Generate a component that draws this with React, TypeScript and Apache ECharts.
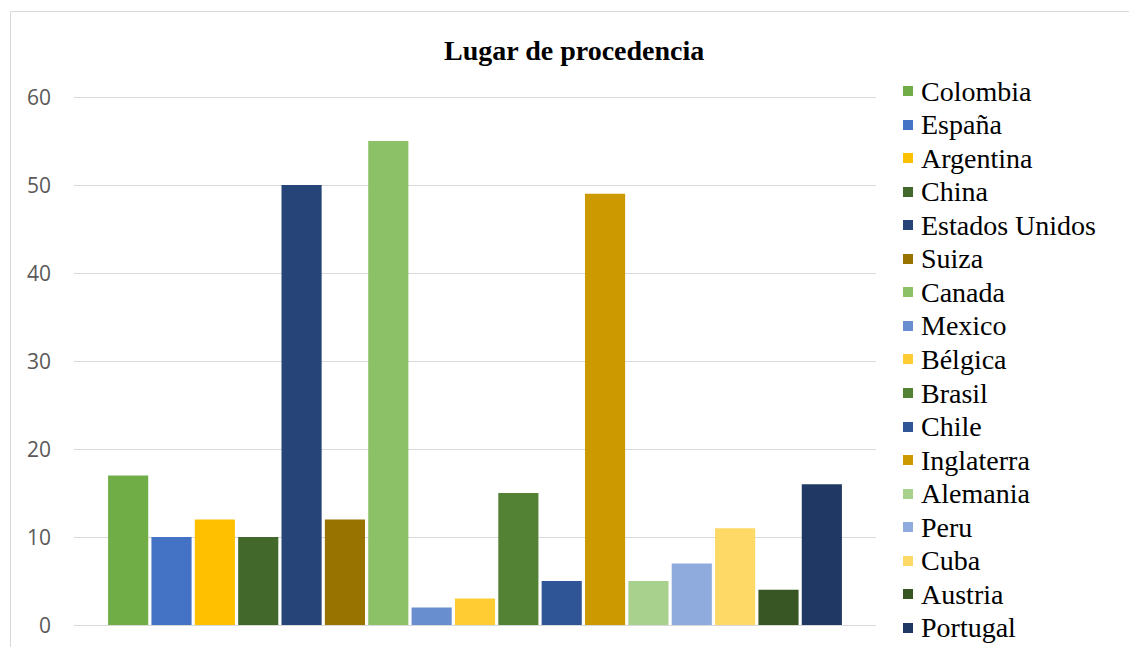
import React, { useEffect, useRef } from "react";
import * as echarts from "echarts";

const categories = [""];
const countries = [
  "Colombia", "España", "Argentina", "China", "Estados Unidos", "Suiza", "Canada",
  "Mexico", "Bélgica", "Brasil", "Chile", "Inglaterra", "Alemania", "Peru", "Cuba",
  "Austria", "Portugal",
];
const values = [17, 10, 12, 10, 50, 12, 55, 2, 3, 15, 5, 49, 5, 7, 11, 4, 16];
const colors = [
  "#70AD47", "#4472C4", "#FFC000", "#43682B", "#264478", "#997300", "#8CC168",
  "#698ED0", "#FFCD33", "#548235", "#2F5597", "#CC9A00", "#A9D18E", "#8FAADC",
  "#FFD966", "#375623", "#203864",
];
const yTicks = { min: 0, max: 60, interval: 10 };

const SERIF = "Liberation Serif";
const LEG_FONT = "normal 400 28px 'Times New Roman', 'Liberation Serif', 'DejaVu Serif', serif";
const LEG_X = 903;
const LEG_Y0 = 91;
const LEG_STEP = 33.56;

export default function App() {
  const ref = useRef<HTMLDivElement>(null);
  useEffect(() => {
    document.body.style.margin = "0";
    const chart = echarts.init(ref.current!, undefined, { renderer: "svg" });
    const legendEls: any[] = [];
    countries.forEach((name, i) => {
      const cy = LEG_Y0 + i * LEG_STEP;
      legendEls.push({
        type: "rect",
        shape: { x: LEG_X, y: Math.round(cy - 5), width: 10, height: 10 },
        style: { fill: colors[i] },
        silent: true,
      });
      legendEls.push({
        type: "text",
        x: LEG_X + 18,
        y: cy,
        style: {
          text: name,
          font: LEG_FONT,
          fill: "#000000",
          verticalAlign: "middle",
          align: "left",
        },
        silent: true,
      });
    });
    chart.setOption({
      animation: false,
      backgroundColor: "#ffffff",
      title: {
        text: "Lugar de procedencia",
        left: 444,
        top: 36,
        padding: 0,
        textStyle: {
          fontFamily: SERIF,
          fontWeight: "bold",
          fontSize: 28,
          color: "#000000",
        },
      },
      legend: { show: false, data: countries },
      graphic: [
        {
          type: "rect",
          shape: { x: 10.5, y: 11.5, width: 1300, height: 1000 },
          style: { fill: "none", stroke: "#d9d9d9", lineWidth: 1 },
          silent: true,
        },
        ...legendEls,
      ],
      grid: { left: 74, right: 1129 - 876, top: 97, bottom: 22, containLabel: false },
      xAxis: {
        type: "category",
        data: categories,
        axisLine: { show: false },
        axisTick: { show: false },
        axisLabel: { show: false },
      },
      yAxis: {
        type: "value",
        min: yTicks.min,
        max: yTicks.max,
        interval: yTicks.interval,
        axisLine: { show: false },
        axisTick: { show: false },
        axisLabel: {
          margin: 23,
          fontFamily: "Open Sans",
          fontSize: 21,
          color: "#595959",
        },
        splitLine: { lineStyle: { color: "#d9d9d9", width: 1 } },
      },
      series: countries.map((name, i) => ({
        name,
        type: "bar",
        data: [values[i]],
        barCategoryGap: "8.5%",
        barGap: "8%",
        itemStyle: { color: colors[i] },
      })),
    });
    return () => chart.dispose();
  }, []);
  return <div ref={ref} style={{ width: 1129, height: 647 }} />;
}
